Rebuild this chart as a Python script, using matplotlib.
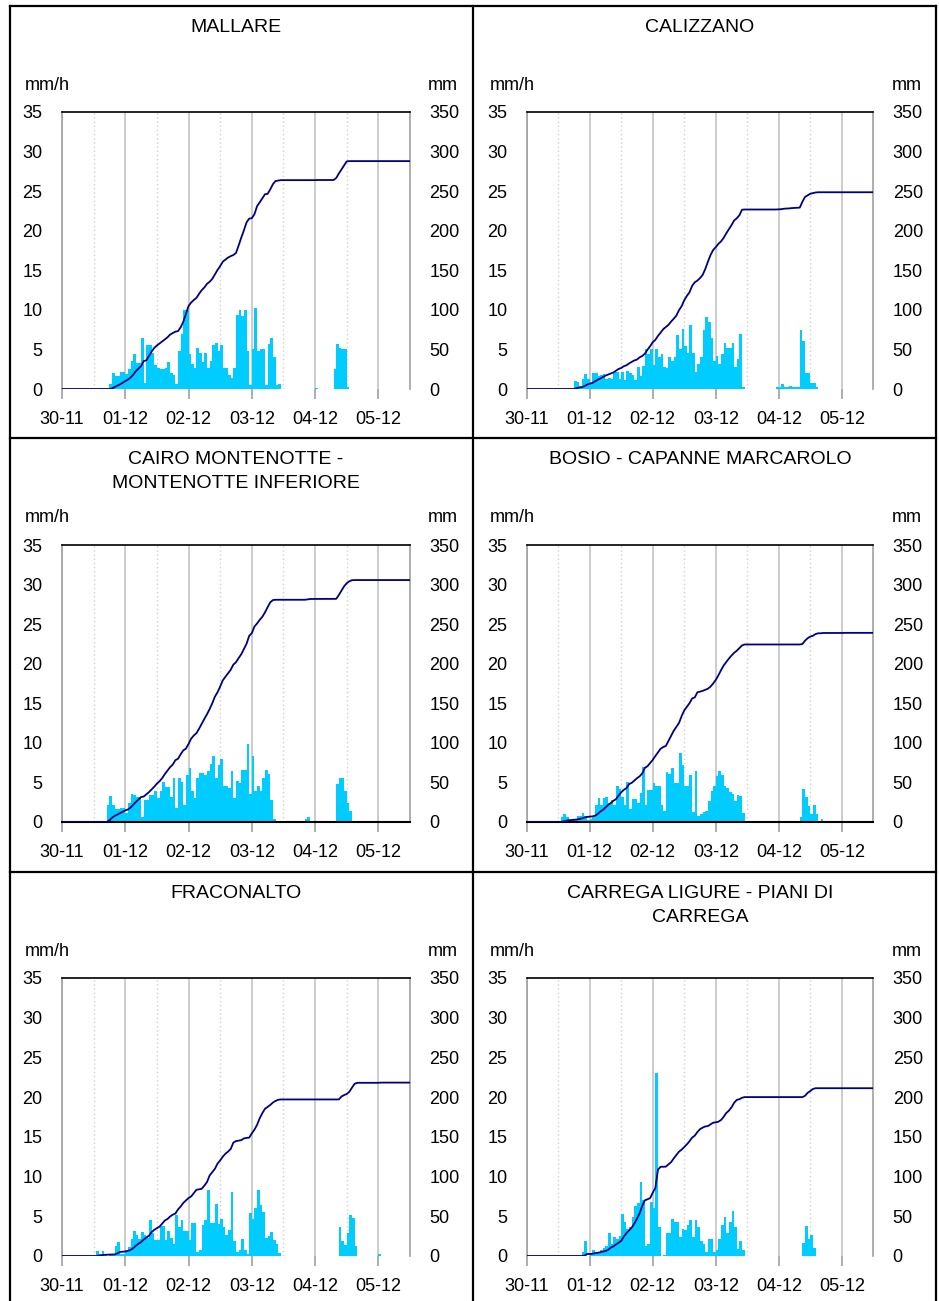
import numpy as np
import matplotlib.pyplot as plt
from matplotlib.lines import Line2D

plt.rcParams['font.family'] = ['Liberation Sans', 'DejaVu Sans']

# hours counted from 30-11 00:00, chart runs to 05-12 12:00
N_HOURS = 132
DAY_LABELS = ["30-11", "01-12", "02-12", "03-12", "04-12", "05-12"]

TITLES = ["MALLARE", "CALIZZANO",
          "CAIRO MONTENOTTE -\nMONTENOTTE INFERIORE", "BOSIO - CAPANNE MARCAROLO",
          "FRACONALTO", "CARREGA LIGURE - PIANI DI\nCARREGA"]

# hourly rain (mm/h), each event = start hour + values
mallare_start1 = 18
mallare_rain1 = [0.6, 2.0, 1.6, 1.6, 2.1, 2.1, 1.9, 2.5, 3.6, 4.4, 3.3, 3.3, 6.4, 0.8, 5.6, 5.6,
                 4.6, 3.0, 2.6, 2.5, 2.5, 2.7, 3.4, 2.0, 1.8, 0.6, 4.8, 7.0, 10.0, 10.0, 4.4, 3.2,
                 2.6, 5.2, 4.6, 3.4, 4.6, 2.6, 3.6, 5.6, 5.8, 4.8, 5.6, 2.6, 2.6, 1.8, 1.4, 2.6,
                 9.4, 10.0, 9.2, 10.0, 4.8, 0.5, 5.1, 10.2, 4.8, 5.1, 5.1, 0.5, 5.7, 6.5, 4.0, 0.5, 0.6]
mallare_start2 = 96
mallare_rain2 = [0.15, 0, 0, 0, 0, 0, 0, 2.5, 5.7, 5.2, 5.1, 5.1, 0.3]

calizzano_start1 = 18
calizzano_rain1 = [1.0, 0.9, 0.4, 1.3, 1.9, 1.3, 0.8, 2.0, 2.0, 1.6, 1.8, 1.9, 1.3, 1.4, 1.3, 2.2,
                   2.2, 1.3, 2.2, 1.2, 2.3, 2.0, 1.8, 1.1, 2.8, 1.7, 2.9, 5.0, 4.4, 5.1, 3.0, 5.1,
                   4.0, 4.4, 2.8, 2.7, 4.1, 3.6, 4.0, 6.8, 5.0, 7.6, 5.4, 4.6, 8.1, 4.5, 2.2, 3.1,
                   4.0, 7.5, 9.1, 8.5, 6.4, 3.6, 4.2, 3.1, 4.4, 5.8, 5.2, 5.2, 5.8, 2.8, 3.8, 7.0, 0.3]
calizzano_start2 = 95
calizzano_rain2 = [0.2, 0.2, 0.6, 0.2, 0.2, 0.4, 0.2, 0.2, 0.2, 7.4, 6.1, 2.0, 2.0, 0.8, 0.8, 0.3]

cairo_start1 = 17
cairo_rain1 = [2.2, 3.3, 2.2, 1.7, 1.7, 1.8, 1.8, 1.1, 2.4, 3.6, 3.4, 3.2, 3.2, 0.6, 2.8, 2.8,
               3.4, 3.4, 3.9, 3.0, 3.9, 5.1, 4.4, 4.4, 3.2, 5.6, 1.8, 5.6, 5.0, 2.2, 5.9, 6.8,
               3.9, 3.0, 5.6, 6.2, 6.2, 5.9, 6.5, 7.3, 8.4, 5.6, 7.2, 7.9, 4.5, 4.5, 4.3, 6.5,
               3.0, 5.2, 4.9, 6.6, 6.6, 9.9, 3.6, 8.3, 3.9, 4.5, 3.9, 5.6, 6.6, 6.1, 2.8, 0.4]
cairo_start2 = 92
cairo_rain2 = [0.35, 0.6, 0.1, 0, 0, 0.1, 0, 0, 0, 0, 0, 0, 4.8, 5.55, 5.55, 3.9, 2.4, 1.4, 0.15]

bosio_start1 = 13
bosio_rain1 = [0.6, 1.0, 0.6, 0.3, 0.3, 0.3, 0.7, 0.7, 1.2, 0.7, 0.3, 0.4, 0.8, 2.2, 3.0, 2.2,
               3.0, 3.2, 2.4, 2.8, 2.2, 4.5, 4.2, 3.1, 2.2, 5.0, 1.6, 2.9, 2.9, 2.4, 3.7, 7.0,
               2.1, 4.0, 4.0, 4.9, 4.6, 4.6, 2.1, 1.4, 6.3, 6.1, 6.8, 4.9, 4.9, 8.7, 7.2, 4.6,
               4.5, 6.0, 1.3, 6.5, 0.8, 1.0, 1.3, 1.4, 2.7, 3.9, 4.5, 5.8, 6.5, 5.9, 4.5, 4.3,
               3.8, 3.5, 2.6, 3.4, 3.3, 1.2]
bosio_start2 = 104
bosio_rain2 = [0.6, 4.2, 3.15, 2.05, 1.0, 2.15, 1.0, 0.0, 0.4, 0, 0, 0, 0, 0, 0, 0, 0.15]

fraconalto_start1 = 13
fraconalto_rain1 = [0.6, 0.3, 0.6, 0.1, 0.0, 0.1, 0.3, 1.3, 1.8, 0.3, 0.3, 0.8, 1.1, 2.2, 3.1, 2.6,
                    2.1, 3.0, 2.7, 2.3, 4.5, 2.9, 2.0, 2.0, 3.8, 3.8, 2.0, 3.1, 2.3, 1.5, 5.1, 3.7,
                    4.5, 3.1, 3.1, 2.0, 4.2, 4.2, 0.5, 0.8, 3.9, 4.5, 8.3, 4.2, 4.2, 6.6, 4.0, 4.7,
                    3.7, 2.7, 3.3, 8.0, 1.9, 0.5, 0.7, 2.1, 0.7, 0.3, 5.4, 4.7, 6.1, 8.3, 6.4, 5.5,
                    2.3, 2.5, 3.0, 2.0, 1.5, 0.4]
fraconalto_start2 = 105
fraconalto_rain2 = [3.65, 1.85, 1.35, 2.9, 5.15, 4.8, 1.25, 0, 0, 0, 0, 0, 0, 0, 0, 0.25]

carrega_start1 = 21
carrega_rain1 = [0.55, 1.95, 0, 0.25, 0.8, 0.55, 0.55, 0.8, 0.95, 1.3, 2.85, 1.5, 2.45, 2.15, 2.55,
                 5.3, 4.3, 3.4, 3.7, 4.85, 6.3, 6.65, 9.35, 7.05, 1.3, 1.5, 6.75, 6.1, 23.0, 3.6,
                 0, 0.15, 2.85, 2.85, 4.65, 4.3, 4.25, 2.45, 3.4, 3.3, 3.95, 4.55, 2.45, 4.55, 3.6,
                 1.95, 1.5, 0.45, 2.15, 2.15, 0.45, 0.75, 2.15, 3.95, 4.95, 2.85, 4.25, 5.7, 3.6,
                 0.9, 1.85, 0.8]
carrega_start2 = 105
carrega_rain2 = [1.6, 3.8, 2.2, 2.65, 0.95]

stations = [
    [(mallare_start1, mallare_rain1), (mallare_start2, mallare_rain2)],
    [(calizzano_start1, calizzano_rain1), (calizzano_start2, calizzano_rain2)],
    [(cairo_start1, cairo_rain1), (cairo_start2, cairo_rain2)],
    [(bosio_start1, bosio_rain1), (bosio_start2, bosio_rain2)],
    [(fraconalto_start1, fraconalto_rain1), (fraconalto_start2, fraconalto_rain2)],
    [(carrega_start1, carrega_rain1), (carrega_start2, carrega_rain2)],
]


def hourly(events):
    rain = np.zeros(N_HOURS)
    for start, vals in events:
        rain[start:start + len(vals)] = vals
    return rain


W, H = 939, 1301
fig = plt.figure(figsize=(W / 100, H / 100), dpi=100)


def fx(x):
    return x / W


def fy(y):
    return 1 - y / H


cols = [(62, 410), (526.7, 873.3)]
rows = [(112, 389), (545, 822), (978, 1256)]
panel_top = [6, 438, 872]

for i, events in enumerate(stations):
    r, c = divmod(i, 2)
    x0, x1 = cols[c]
    y0, y1 = rows[r]
    ax = fig.add_axes([fx(x0), fy(y1), (x1 - x0) / W, (y1 - y0) / H])

    rain = hourly(events)
    hours = np.arange(N_HOURS)
    cum = np.concatenate([[0], np.cumsum(rain)])

    ax.bar(hours, rain, width=1, align='edge', color='#00CCFF', linewidth=0, zorder=2)
    ax.set_xlim(0, N_HOURS)
    ax.set_ylim(0, 35)
    ax.set_axisbelow(True)

    ax.set_xticks(np.arange(0, 121, 24))
    ax.set_xticklabels(DAY_LABELS, fontsize=13)
    ax.set_xticks(np.arange(12, 120, 24), minor=True)
    ax.set_yticks(np.arange(0, 36, 5))
    ax.set_yticks([5, 10, 20, 35], minor=True)
    ax.tick_params(axis='x', which='major', length=7, width=1.2, color='#a0a0a0', pad=9)
    ax.tick_params(axis='x', which='minor', length=0)
    ax.tick_params(axis='y', which='major', length=0, labelsize=13, pad=14)
    ax.tick_params(axis='y', which='minor', length=7, width=1, color='black',
                   left=True, right=True)
    ax.grid(which='major', axis='x', color='#c8c8c8', linewidth=1.3)
    ax.grid(which='minor', axis='x', color='#d0d0d0', linewidth=1, linestyle=(0, (1, 2)))
    ax.grid(which='minor', axis='y', color='#a8a8a8', linewidth=0.9, linestyle=(0, (1, 2)))

    for side in ['left', 'right']:
        ax.spines[side].set_color('#a0a0a0')
        ax.spines[side].set_linewidth(1.2)
    ax.spines['top'].set_color('black')
    ax.spines['top'].set_linewidth(1.2)
    if r == 1:
        ax.spines['bottom'].set_color('black')
        ax.spines['bottom'].set_linewidth(1.5)
    else:
        ax.spines['bottom'].set_visible(False)

    ax2 = ax.twinx()
    ax2.set_ylim(0, 350)
    ax2.set_yticks(np.arange(0, 351, 50))
    ax2.tick_params(axis='y', length=0, labelsize=13, pad=14)
    for s in ax2.spines.values():
        s.set_visible(False)
    ax2.plot(np.arange(N_HOURS + 1), cum, color='#000080', linewidth=1.3, zorder=3)

    # panel texts
    ptop = panel_top[r]
    fig.text(fx((x0 + x1) / 2), fy(ptop + 13), TITLES[i], ha='center', va='top',
             fontsize=14, linespacing=1.55)
    fig.text(fx(x0 - 37), fy(y0 - 27), "mm/h", ha='left', va='center', fontsize=13)
    fig.text(fx(x1 + 48), fy(y0 - 27), "mm", ha='right', va='center', fontsize=13)

# panel borders
for x in [10, 473, 936]:
    fig.add_artist(Line2D([fx(x), fx(x)], [fy(6), fy(1301)], color='black', linewidth=1.6))
for y in [6, 438, 872]:
    fig.add_artist(Line2D([fx(10), fx(936)], [fy(y), fy(y)], color='black', linewidth=1.6))

plt.savefig("out.png", dpi=100)
plt.close()
